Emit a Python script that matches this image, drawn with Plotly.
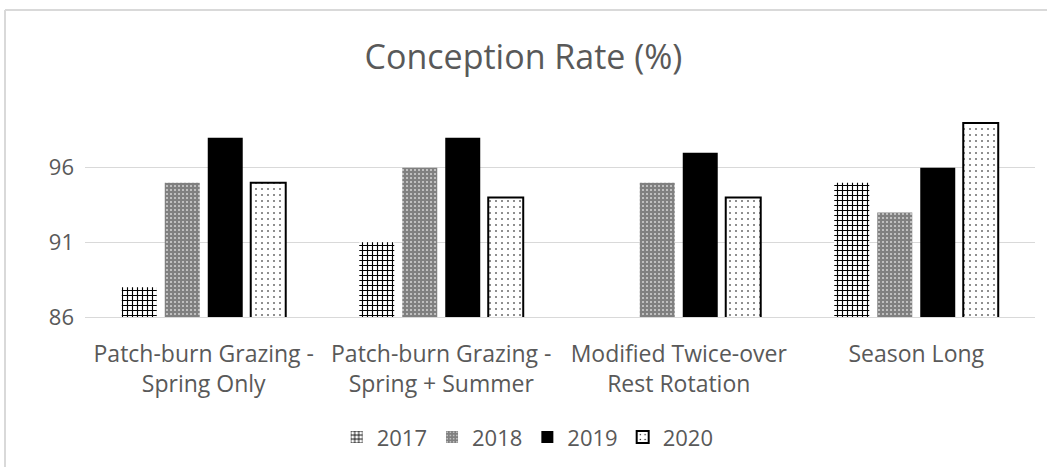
import plotly.graph_objects as go

categories = ["Patch-burn Grazing -<br>Spring Only", "Patch-burn Grazing -<br>Spring + Summer",
              "Modified Twice-over<br>Rest Rotation", "Season Long"]
years = ["2017", "2018", "2019", "2020"]
v2017 = [88, 91, None, 95]
v2018 = [95, 96, 95, 93]
v2019 = [98, 98, 97, 96]
v2020 = [95, 94, 94, 99]
tick_vals = [86, 91, 96]

TXT = "#595959"
FONT = "Open Sans"

fig = go.Figure()
fig.add_trace(go.Bar(name="2017", x=categories, y=v2017,
                     marker=dict(color="white", line=dict(width=0),
                                 pattern=dict(shape="+", fgcolor="black", bgcolor="white",
                                              size=5, solidity=0.4, fillmode="replace"))))
fig.add_trace(go.Bar(name="2018", x=categories, y=v2018,
                     marker=dict(color="#7f7f7f", line=dict(width=0),
                                 pattern=dict(shape=".", fgcolor="#d4d4d4", bgcolor="#808080",
                                              size=4, solidity=0.2, fillmode="replace"))))
fig.add_trace(go.Bar(name="2019", x=categories, y=v2019,
                     marker=dict(color="black", line=dict(width=0))))
fig.add_trace(go.Bar(name="2020", x=categories, y=v2020,
                     marker=dict(color="white", line=dict(width=2, color="black"),
                                 pattern=dict(shape=".", fgcolor="black", bgcolor="white",
                                              size=6, solidity=0.06, fillmode="replace"))))

y_top = (317 - 10) / 209
y_bot = (317 - 470) / 209
x_left = (5 - 85) / 950
x_right = (1050 - 85) / 950
fig.update_layout(
    width=1047, height=467,
    paper_bgcolor="white", plot_bgcolor="white",
    margin=dict(l=85, r=12, t=108, b=150, autoexpand=False),
    barmode="group", bargap=0.276, bargroupgap=0.186,
    font=dict(family=FONT, color=TXT, size=22),
    title=dict(text="Conception Rate (%)", x=0.5, xanchor="center", y=0.878, yanchor="middle",
               font=dict(family=FONT, size=34, color=TXT)),
    legend=dict(orientation="h", x=0.466, xanchor="center", y=-0.475, yanchor="top",
                font=dict(size=22, color=TXT), traceorder="normal",
                itemwidth=30, itemsizing="constant"),
    xaxis=dict(showline=True, linecolor="#d9d9d9", linewidth=1, ticks="", automargin=False,
               tickfont=dict(size=23, color=TXT), ticklabelstandoff=16),
    yaxis=dict(range=[86, 100], tickvals=tick_vals, showgrid=True, gridcolor="#d9d9d9",
               gridwidth=1, zeroline=False, ticks="", automargin=False,
               tickfont=dict(size=22, color=TXT), ticklabelstandoff=10),
    shapes=[
        dict(type="line", xref="paper", yref="paper", x0=x_left, x1=x_left, y0=y_bot, y1=y_top,
             line=dict(color="#d9d9d9", width=2), layer="below"),
        dict(type="line", xref="paper", yref="paper", x0=x_left, x1=x_right, y0=y_top, y1=y_top,
             line=dict(color="#d9d9d9", width=2), layer="below"),
    ],
)

fig.write_html("out.html", config={"displayModeBar": False},
               post_script="document.body.style.margin='0';document.body.style.overflow='hidden';")
